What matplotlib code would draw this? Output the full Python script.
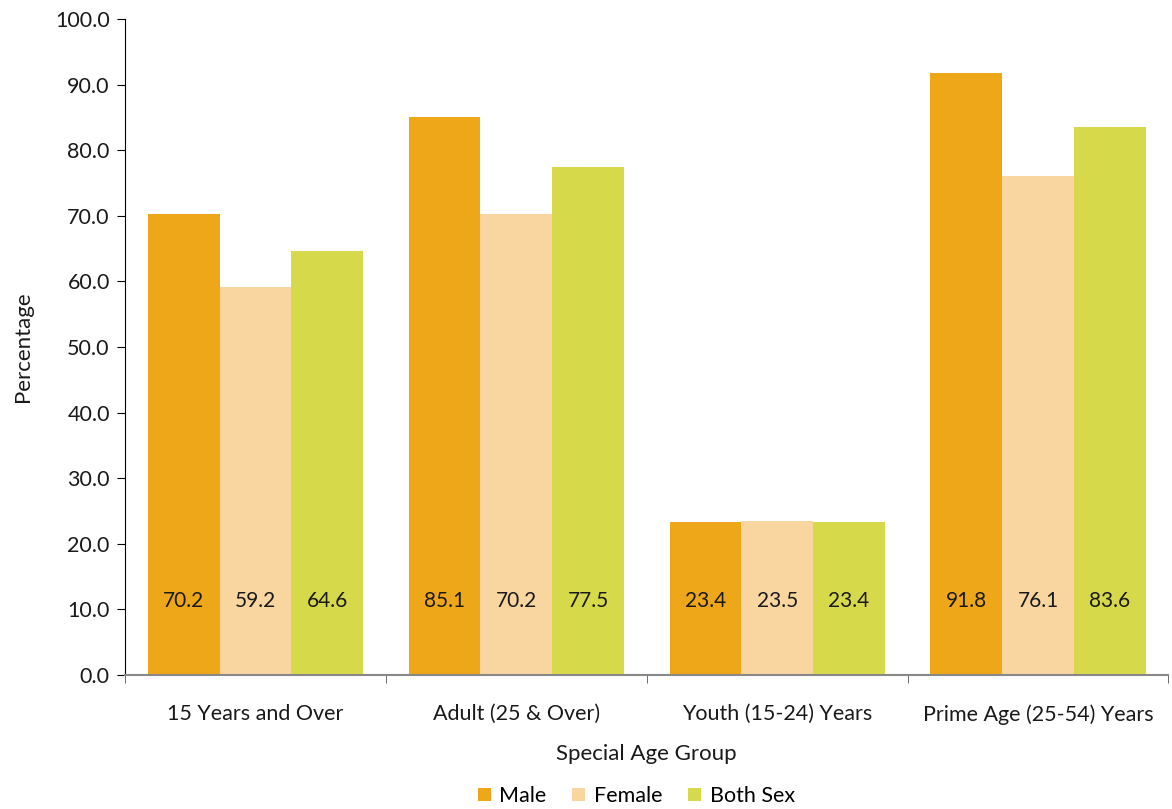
import numpy as np
import matplotlib
matplotlib.use('Agg')
from matplotlib import pyplot

pyplot.rcParams['font.family'] = ['Lato', 'DejaVu Sans']

categories = ['15 Years and Over', 'Adult (25 & Over)', 'Youth (15-24) Years', 'Prime Age (25-54) Years']
series_names = ['Male', 'Female', 'Both Sex']
male = [70.2, 85.1, 23.4, 91.8]
female = [59.2, 70.2, 23.5, 76.1]
both = [64.6, 77.5, 23.4, 83.6]
colors = ['#EFA71A', '#F9D5A0', '#D6D94A']

fig = pyplot.figure(figsize=(11.72, 8.09), dpi=100)
ax = fig.add_axes([0.1067, 0.1656, 0.8903, 0.811])

ind = np.arange(len(categories))
bar_width = 0.275
for i, (vals, name) in enumerate(zip([male, female, both], series_names)):
    x = ind + (i - 1) * bar_width
    ax.bar(x, vals, width=bar_width, color=colors[i], label=name, linewidth=0)
    for xi, v in zip(x, vals):
        ax.text(xi, 11.3, '%.1f' % v, ha='center', va='center', fontsize=15, color='#1a1a1a')

ax.set_xlim(-0.5, len(categories) - 0.5)
ax.set_ylim(0, 100)
ax.set_yticks(np.arange(0, 101, 10))
ax.set_yticklabels(['%.1f' % t for t in np.arange(0, 101, 10)], fontsize=15.5, color='#1a1a1a')
ax.set_xticks(ind)
ax.set_xticklabels(categories, fontsize=15.5, color='#1a1a1a')
ax.set_xticks(np.arange(-0.5, len(categories), 1), minor=True)
ax.tick_params(axis='x', which='major', length=0, pad=21)
ax.tick_params(axis='x', which='minor', length=6, color='#555555')
ax.tick_params(axis='y', length=6, pad=5)

for s in ['top', 'right']:
    ax.spines[s].set_visible(False)
ax.spines['bottom'].set_color('#888888')
ax.spines['bottom'].set_linewidth(1.5)

ax.set_xlabel('Special Age Group', fontsize=16, labelpad=14, color='#1a1a1a')
ax.set_ylabel('Percentage', fontsize=16, labelpad=16, color='#1a1a1a')

leg = fig.legend(loc='center', bbox_to_anchor=(0.543, 0.016), ncol=3, frameon=False,
                 fontsize=15.5, handlelength=0.6, handleheight=0.6, handletextpad=0.4, columnspacing=1.2)

pyplot.savefig('out.png', dpi=100)
